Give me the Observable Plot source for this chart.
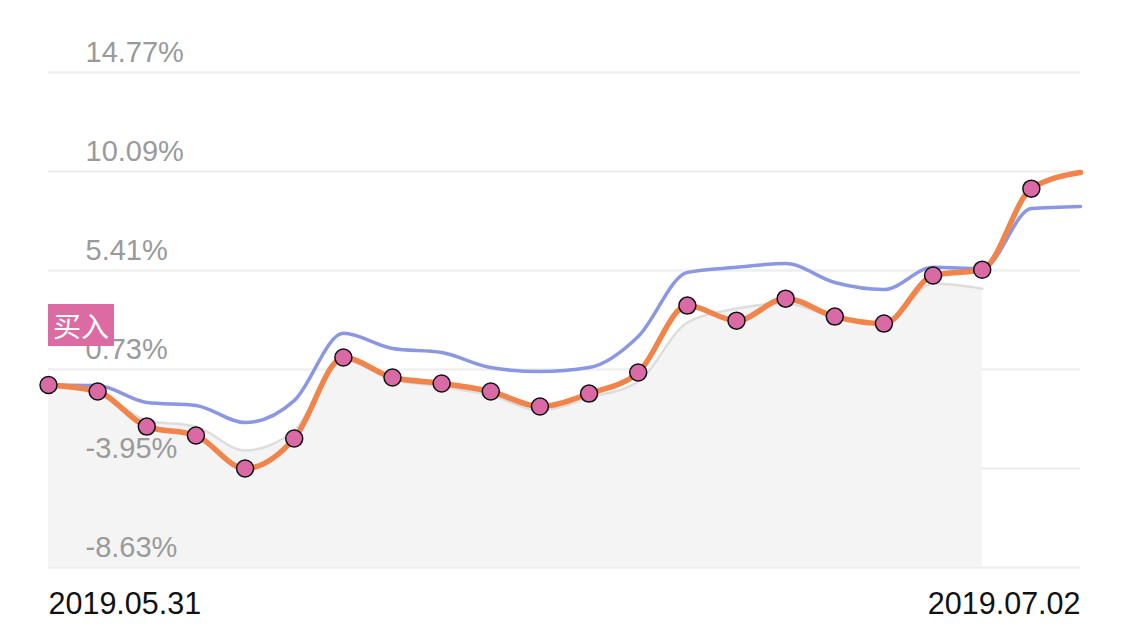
<!DOCTYPE html>
<html>
<head>
<meta charset="utf-8">
<script src="https://cdn.jsdelivr.net/npm/d3@7"></script>
<script src="https://cdn.jsdelivr.net/npm/@observablehq/plot@0.6"></script>
<style>
  html, body { margin: 0; padding: 0; background: #fff; }
  #wrap { position: relative; width: 1125px; height: 629px; }
  #buy { position: absolute; left: 48px; top: 304px; width: 66px; height: 42px;
         background: #dc6aa3; color: #fff; font: 28px "Noto Sans CJK SC", sans-serif;
         line-height: 42px; text-align: center; }
</style>
</head>
<body>
<div id="wrap"><div id="buy">买入</div></div>
<script>
const dateLabels = ["2019.05.31", "2019.07.02"];
const yTicks = [14.77, 10.09, 5.41, 0.73, -3.95, -8.63];
const buyLabel = "买入";

// orange (strategy) series with dots, indices 0..21
const orangeValues = [0, -0.31, -1.97, -2.39, -3.95, -2.53, 1.30, 0.35, 0.07, -0.31, -1.02, -0.41, 0.59, 3.75, 3.04, 4.08, 3.23, 2.90, 5.17, 5.45, 9.28, 10.04];
// blue (benchmark) series
const blueValues = [0, -0.03, -0.83, -0.97, -1.78, -0.74, 2.44, 1.72, 1.53, 0.82, 0.63, 0.82, 2.29, 5.32, 5.56, 5.74, 4.84, 4.51, 5.56, 5.50, 8.34, 8.44];
// gray (area) series
const grayValues = [0, -0.36, -1.68, -1.97, -3.10, -2.16, 1.16, 0.26, -0.08, -0.50, -1.21, -0.60, 0.16, 2.95, 3.61, 3.85, 3.19, 2.90, 4.79, 4.55];

const orange = orangeValues.map((v, i) => ({i, v}));
const blue = blueValues.map((v, i) => ({i, v}));
const gray = grayValues.map((v, i) => ({i, v}));
const dots = orange.slice(0, 21);
const yMin = yTicks[yTicks.length - 1];
const lastIndex = orangeValues.length - 1;

const chart = Plot.plot({
  width: 1125,
  height: 629,
  marginTop: 72,
  marginBottom: 62,
  marginLeft: 48,
  marginRight: 45,
  x: {domain: [0, lastIndex], axis: null},
  y: {domain: [yMin, yTicks[0]], axis: null},
  style: {background: "#fff", fontFamily: "'Liberation Sans', Arial, sans-serif"},
  marks: [
    Plot.ruleY(yTicks, {stroke: "#efefef", strokeWidth: 2.5}),
    Plot.areaY(gray, {x: "i", y1: yMin, y2: "v", fill: "#f4f4f4", curve: "monotone-x"}),
    Plot.line(gray, {x: "i", y: "v", stroke: "#dddddd", strokeWidth: 2.5, curve: "monotone-x"}),
    Plot.text(yTicks, {x: 0, y: d => d, text: d => d.toFixed(2) + "%", textAnchor: "start", lineAnchor: "bottom",
      dx: 37, dy: -11, fontSize: 29, fill: "#9a9a9a"}),
    Plot.line(blue, {x: "i", y: "v", stroke: "#8b97e2", strokeWidth: 3.5, curve: "monotone-x"}),
    Plot.line(orange, {x: "i", y: "v", stroke: "#f0844a", strokeWidth: 5.5, curve: "monotone-x"}),
    Plot.dot(dots, {x: "i", y: "v", r: 8.5, fill: "#d96aa6", stroke: "#111", strokeWidth: 1.5}),
    Plot.text([dateLabels[0]], {x: 0, y: yMin, text: d => d, textAnchor: "start", lineAnchor: "bottom", dy: 46, fontSize: 30.5, fill: "#111"}),
    Plot.text([dateLabels[1]], {x: lastIndex, y: yMin, text: d => d, textAnchor: "end", lineAnchor: "bottom", dy: 46, fontSize: 30.5, fill: "#111"})
  ]
});
document.getElementById("wrap").prepend(chart);
</script>
</body>
</html>
